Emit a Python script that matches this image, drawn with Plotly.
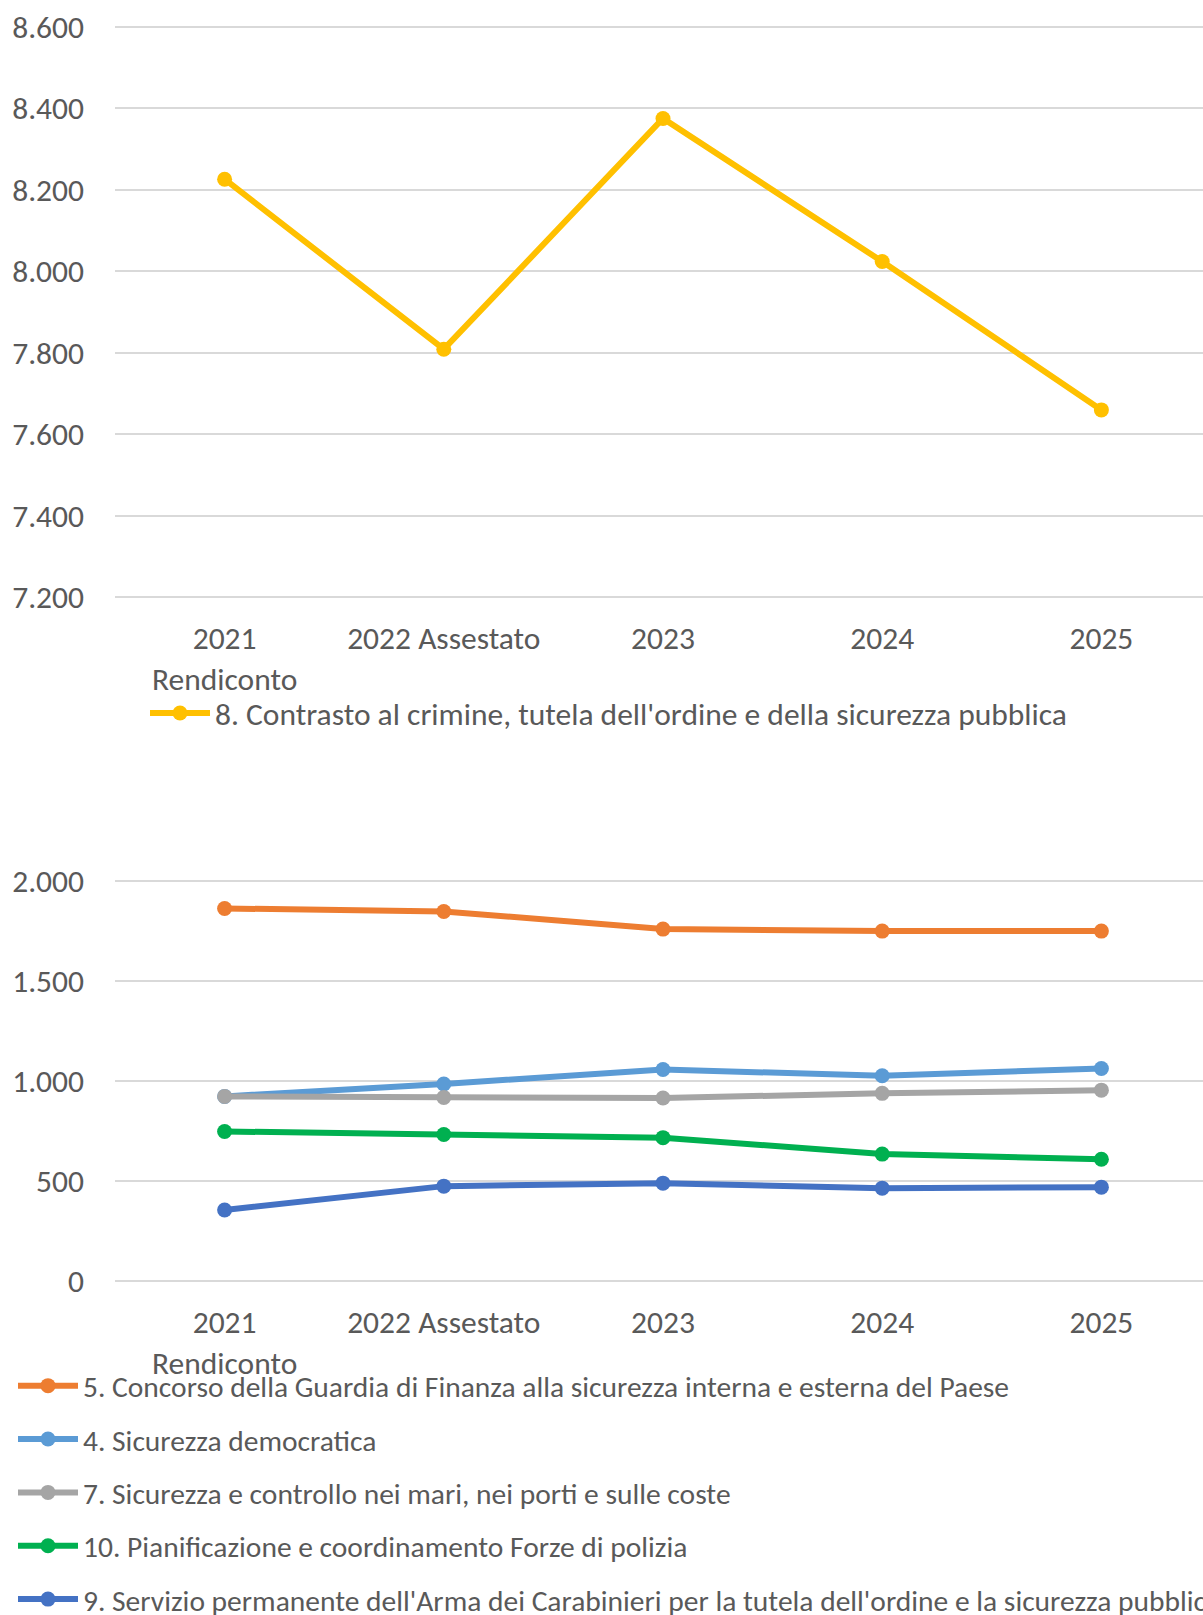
import plotly.graph_objects as go

categories = ["2021<br>Rendiconto", "2022 Assestato", "2023", "2024", "2025"]

top_name = "8. Contrasto al crimine, tutela dell'ordine e della sicurezza pubblica"
top_values = [8226, 7809, 8375, 8024, 7660]

s5_name = "5. Concorso della Guardia di Finanza alla sicurezza interna e esterna del Paese"
s5_values = [1861, 1846, 1758, 1748, 1748]
s4_name = "4. Sicurezza democratica"
s4_values = [923, 985, 1057, 1026, 1062]
s7_name = "7. Sicurezza e controllo nei mari, nei porti e sulle coste"
s7_values = [923, 918, 915, 938, 954]
s10_name = "10. Pianificazione e coordinamento Forze di polizia"
s10_values = [748, 733, 717, 635, 609]
s9_name = "9. Servizio permanente dell'Arma dei Carabinieri per la tutela dell'ordine e la sicurezza pubblica"
s9_values = [356, 475, 490, 465, 470]

top_ticks = [7200, 7400, 7600, 7800, 8000, 8200, 8400, 8600]
top_ticktext = ["7.200", "7.400", "7.600", "7.800", "8.000", "8.200", "8.400", "8.600"]
bot_ticks = [0, 500, 1000, 1500, 2000]
bot_ticktext = ["0", "500", "1.000", "1.500", "2.000"]

FONT = "Carlito, Lato, sans-serif"
TXT = "#595959"
GRID = "#d9d9d9"
W, H = 1203, 1615
TICK_SIZE = 31.5
LEG1_SIZE = 31.5
LEG2_SIZE = 29.5
LW = 6
MS = 15

fig = go.Figure()

fig.add_trace(go.Scatter(
    x=categories, y=top_values, name=top_name, mode="lines+markers",
    line=dict(color="#FFC000", width=LW), marker=dict(size=MS, color="#FFC000"),
    xaxis="x", yaxis="y", legend="legend"))

bottom = [
    (s5_name, s5_values, "#ED7D31"),
    (s4_name, s4_values, "#5B9BD5"),
    (s7_name, s7_values, "#A5A5A5"),
    (s10_name, s10_values, "#00B050"),
    (s9_name, s9_values, "#4472C4"),
]
for i, (n, v, c) in enumerate(bottom):
    fig.add_trace(go.Scatter(
        x=categories, y=v, name=n, mode="lines+markers",
        line=dict(color=c, width=LW), marker=dict(size=MS, color=c),
        xaxis="x2", yaxis="y2", legend="legend2", legendgroup=f"g{i}"))

def ypaper(px):
    return 1 - px / H

def xpaper(px):
    return (px - 115) / (W - 115)

# pixel extents of the two plot areas (gridline at max / min value)
PAD = 3  # extra pixels so edge gridlines are not clipped
top_px = (26.8, 597.4)
bot_px = (880.6, 1281.3)
top_u = (8600 - 7200) / (top_px[1] - top_px[0])
bot_u = (2000 - 0) / (bot_px[1] - bot_px[0])
# the category bands are 219.2 px wide; the chart is cropped at the right edge
x_hi = -0.5 + (W - 115) / 219.2

xcommon = dict(type="category", categoryorder="array", categoryarray=categories,
               range=[-0.5, x_hi], showgrid=False, showline=False, zeroline=False,
               ticks="", tickfont=dict(family=FONT, size=TICK_SIZE, color=TXT),
               ticklabelstandoff=16, tickangle=0, domain=[0, 1], automargin=False)

ycommon = dict(showgrid=True, gridcolor=GRID, gridwidth=2, zeroline=False,
               showline=False, ticklabelstandoff=30, automargin=False,
               tickfont=dict(family=FONT, size=TICK_SIZE, color=TXT))

fig.update_layout(
    width=W, height=H,
    margin=dict(l=115, r=0, t=0, b=0, autoexpand=False),
    paper_bgcolor="white", plot_bgcolor="white",
    showlegend=True,
    font=dict(family=FONT, size=LEG2_SIZE, color=TXT),
    xaxis=dict(anchor="y", **xcommon),
    yaxis=dict(domain=[ypaper(top_px[1] + PAD), ypaper(top_px[0] - PAD)],
               range=[7200 - PAD * top_u, 8600 + PAD * top_u],
               tickvals=top_ticks, ticktext=top_ticktext, **ycommon),
    xaxis2=dict(anchor="y2", **xcommon),
    yaxis2=dict(domain=[ypaper(bot_px[1] + PAD), ypaper(bot_px[0] - PAD)],
                range=[0 - PAD * bot_u, 2000 + PAD * bot_u],
                tickvals=bot_ticks, ticktext=bot_ticktext, **ycommon),
    legend=dict(x=xpaper(145), y=ypaper(686), yanchor="top",
                xanchor="left", orientation="h", bgcolor="rgba(0,0,0,0)",
                font=dict(family=FONT, size=LEG1_SIZE, color=TXT), itemwidth=60),
    legend2=dict(x=xpaper(13), y=ypaper(1360), yanchor="top", xanchor="left",
                 orientation="v", bgcolor="rgba(0,0,0,0)", tracegroupgap=12,
                 font=dict(family=FONT, size=LEG2_SIZE, color=TXT), itemwidth=60),
)

fig.write_html("out.html", config={"displayModeBar": False},
               post_script="document.body.style.margin='0';document.body.style.overflow='hidden';")
